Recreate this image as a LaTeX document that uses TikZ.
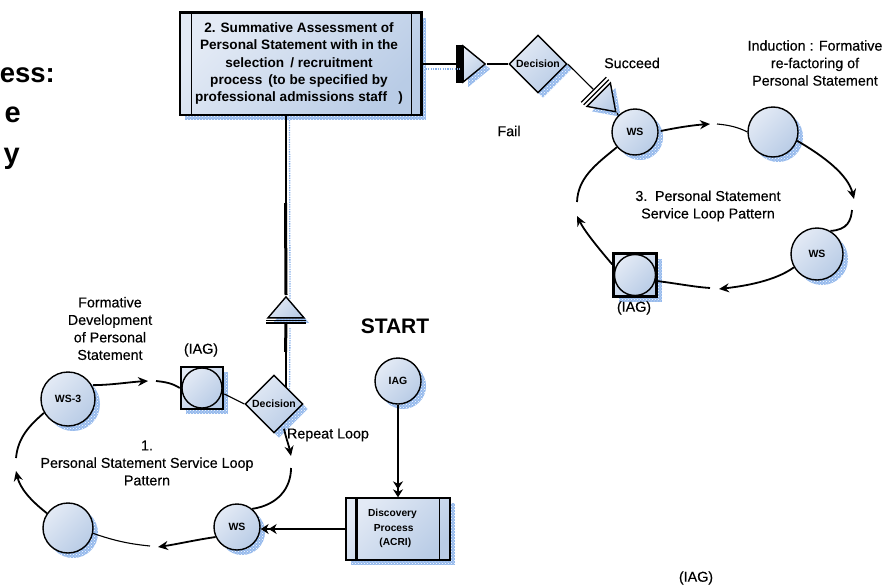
\documentclass[tikz,border=0pt]{standalone}
\usepackage{fontspec}
\setmainfont{Liberation Sans}
\newfontfamily\labfont{Liberation Sans}[FakeBold=0.4]
\usetikzlibrary{arrows.meta,patterns,shapes.geometric}
\definecolor{shblue}{HTML}{4F8BE0}
\definecolor{lightfill}{HTML}{E3EAF5}
\definecolor{darkfill}{HTML}{B9CCE6}
\tikzset{
  shadowed/.style={preaction={draw=none,fill=shblue!60,transform canvas={shift={(5pt,-5pt)}}},
                   preaction={draw=none,pattern=crosshatch dots,pattern color=white,transform canvas={shift={(5pt,-5pt)}}}},
  plainbody/.style={draw=black,line width=1.4pt,top color=lightfill,bottom color=darkfill,shading angle=45,inner sep=0pt},
  body/.style={plainbody,shadowed},
  roundel/.style={body,circle,minimum size=#1,font=\fontsize{10.5}{11}\selectfont\bfseries},
  innerroundel/.style={plainbody,circle,minimum size=#1},
  choice/.style={body,diamond,minimum width=58pt,minimum height=58pt,font=\fontsize{10.5}{11}\selectfont\bfseries},
  squarebox/.style={body,rectangle,minimum size=#1,line width=2.6pt},
  procbox/.style={body,rectangle,align=center},
  merge/.style={body,isosceles triangle,isosceles triangle stretches,minimum height=#1,minimum width=36pt},
  lab/.style={inner sep=0pt,align=center,font=\labfont\fontsize{14.3}{17.5}\selectfont},
  loopline/.style={line width=1.8pt,-{Stealth[length=10pt,width=9pt]}},
  loopplain/.style={line width=1.8pt},
  thinline/.style={line width=1.1pt},
  blueline/.style={draw=shblue!70,line width=1.3pt,dash pattern=on 1.3pt off 1.1pt,transform canvas={shift={(4pt,-5pt)}}},
  titletext/.style={inner sep=0pt,anchor=base east,font=\fontsize{29}{29}\selectfont\bfseries}
}
\begin{document}
\begin{tikzpicture}[x=1pt,y=-1pt]
\useasboundingbox (0,0) rectangle (885,586);
% title fragments
\node[titletext,font=\fontsize{27.5}{29}\selectfont\bfseries] (t1) at (55,82) {ess:};
\node[titletext] (t2) at (21,122) {e};
\node[titletext] (t3) at (20,163) {y};
% coordinates of the vertical link
\coordinate (k1) at (285.5,203); \coordinate (k2) at (285.5,352); \coordinate (k0) at (285.5,115); \coordinate (k3) at (285.5,393);
% box 2
\node[procbox,minimum width=241pt,minimum height=102pt] (box2) at (300.5,64) {};
\draw[line width=1.5pt] ([xshift=12pt]box2.north west) -- ([xshift=12pt]box2.south west);
\draw[line width=1.5pt] ([xshift=-10pt]box2.north east) -- ([xshift=-10pt]box2.south east);
\draw[line width=3.2pt] (box2.north west) -- (box2.north east) -- (box2.south east);
\node[lab,font=\fontsize{13.6}{17.4}\selectfont\bfseries] (box2t) at (299,63.5) {2. Summative Assessment of\\Personal Statement with in the\\selection \,/ recruitment\\process \,(to be specified by\\professional admissions staff \ \ )};
% merge + decision top
\node[merge=22pt,anchor=apex] (m1) at (487,64) {};
\draw[line width=6.5pt] ([xshift=-3pt]m1.left corner) -- ([xshift=-3pt]m1.right corner);
\node[choice] (d1) at (538,64) {Decision};
\node[merge=24pt,anchor=apex,rotate=-45,minimum width=33pt] (m2) at (617,113) {};
\draw[line width=1.3pt] ([shift={(-2pt,2pt)}]m2.left corner) -- ([shift={(-2pt,2pt)}]m2.right corner);
\draw[line width=1.3pt] ([shift={(-4.5pt,4.5pt)}]m2.left corner) -- ([shift={(-4.5pt,4.5pt)}]m2.right corner);
\draw[blueline] (box2.east |- m1.west) -- ([xshift=-6pt]m1.lower side);
\draw[line width=1.4pt] (box2.east |- m1.west) -- ([xshift=-6pt]m1.lower side);
\draw[thinline] (m1.apex) -- (d1.west);
\draw[thinline] (d1.east) -- ([shift={(-5pt,5pt)}]m2.lower side);
% loop 3
\node[roundel=46pt] (r1) at (635,132) {WS};
\node[roundel=50pt] (r2) at (773,132) {};
\node[roundel=52pt] (r3) at (817,254) {WS};
\node[squarebox=43pt] (r4s) at (635,275) {};
\node[innerroundel=41pt] (r4) at (635,275) {};
\draw[thinline] (m2.apex) -- (r1.north west);
\coordinate (a1) at (710,124); \coordinate (a2) at (717,124);
\coordinate (a3) at (854,199); \coordinate (a4) at (852,210);
\coordinate (a5) at (719,289); \coordinate (a6) at (710,288);
\coordinate (a7) at (577,216); \coordinate (a8) at (577,202);
\draw[loopline] (r1.east) ++(2,-1) .. controls (680,127) and (695,125) .. (a1);
\draw[thinline] (a2) .. controls (728,125) and (738,127) .. (r2.west);
\draw[loopline] (r2.-20) .. controls (825,157) and (848,175) .. (a3);
\draw[loopplain] (a4) .. controls (851,220) and (848,230) .. (r3.60);
\draw[loopline] (r3.-150) .. controls (775,281) and (745,286) .. (a5);
\draw[loopplain] (a6) .. controls (695,287) and (680,284) .. (r4s.-15);
\draw[loopline] (r4s.155) .. controls (600,250) and (585,232) .. (a7);
\draw[loopplain] (a8) .. controls (578,178) and (595,165) .. (r1.-140);
\node[lab] (succ) at (632,63) {Succeed};
\node[lab] (fail) at (509,131) {Fail};
\node[lab] (ind) at (815,63) {Induction : Formative\\re-factoring of\\Personal Statement};
\node[lab] (l3) at (708,206) {3. \,Personal Statement\\Service Loop Pattern};
\node[lab] (iag3) at (634,308) {(IAG)};
% left loop
\node[roundel=54pt] (w3) at (68,399) {WS-3};
\node[squarebox=42pt] (iags) at (202,388) {};
\node[innerroundel=40pt] (iagc) at (202,388) {};
\node[merge=21pt,anchor=apex,rotate=90] (m3) at (286,295) {};
\draw[line width=1.3pt] ([yshift=-2pt]m3.left corner) -- ([yshift=-2pt]m3.right corner);
\draw[line width=1.3pt] ([yshift=-4.5pt]m3.left corner) -- ([yshift=-4.5pt]m3.right corner);
\draw[blueline] (k0) -- (m3.apex);
\draw[blueline] ([yshift=-4.5pt]m3.lower side) -- (k3);
\draw[draw=black,line width=2pt] (k0) -- (k1);
\draw[line width=3pt] (k1) -- (m3.apex);
\draw[line width=3pt] ([yshift=-4.5pt]m3.lower side) -- (k2);
\draw[draw=black,line width=2pt] (k2) -- (k3);
\node[choice] (d2) at (274,404) {Decision};
\node[roundel=46pt] (ws) at (237,527) {WS};
\node[roundel=50pt] (bl) at (68,528) {};
\coordinate (b1) at (148,381); \coordinate (b2) at (156,381);
\coordinate (b3) at (291,456); \coordinate (b4) at (291,468);
\coordinate (b5) at (158,547); \coordinate (b6) at (150,546);
\coordinate (b7) at (16,471); \coordinate (b8) at (16,458);
\draw[loopline] (w3.30) ++(1,0) .. controls (112,385) and (130,382) .. (b1);
\draw[loopplain] (b2) .. controls (165,382) and (172,383) .. (iags.west);
\draw[thinline] (iags.-15) -- (d2.west);
\draw[loopline] (d2.south) ++(10,-5) .. controls (286,438) and (289,446) .. (b3);
\draw[loopplain] (b4) .. controls (291,488) and (278,505) .. (ws.50);
\draw[loopline] (ws.-155) .. controls (195,540) and (178,544) .. (b5);
\draw[thinline] (b6) .. controls (130,544) and (115,541) .. (bl.-12);
\draw[loopline] (bl.145) .. controls (30,500) and (20,488) .. (b7);
\draw[loopplain] (b8) .. controls (18,437) and (30,425) .. (w3.-150);
% discovery
\node[roundel=46pt] (iag) at (398,381) {IAG};
\node[procbox,minimum width=104pt,minimum height=62pt] (disc) at (398,529) {};
\draw[line width=2.8pt] ([xshift=11pt]disc.north west) -- ([xshift=11pt]disc.south west);
\draw[line width=1.3pt] ([xshift=-11pt]disc.north east) -- ([xshift=-11pt]disc.south east);
\node[inner sep=0pt,align=left,font=\fontsize{10.2}{14.5}\selectfont\bfseries] (disct) at (392.5,528.5) {Discovery\\\ \ Process\\\ \ \ \ (ACRI)};
\draw[thinline,-{Stealth[length=8pt,width=10pt]Stealth[length=8pt,width=10pt]}] (iag.south) -- (disc.north);
\draw[thinline,-{Stealth[length=8pt,width=10pt]Stealth[length=8pt,width=10pt]}] (disc.west) -- (ws.east |- disc.west);
\node[lab] (form) at (110,328.5) {Formative\\Development\\of Personal\\Statement};
\node[lab] (iag1) at (201,350) {(IAG)};
\node[lab] (l1) at (147,463) {1.\\Personal Statement Service Loop\\Pattern};
\node[lab] (rep) at (328,435) {Repeat Loop};
\node[inner sep=0pt,font=\fontsize{21}{21}\selectfont\bfseries] (st) at (395,326) {START};
\node[lab] (iagb) at (696,578) {(IAG)};
\end{tikzpicture}
\end{document}
